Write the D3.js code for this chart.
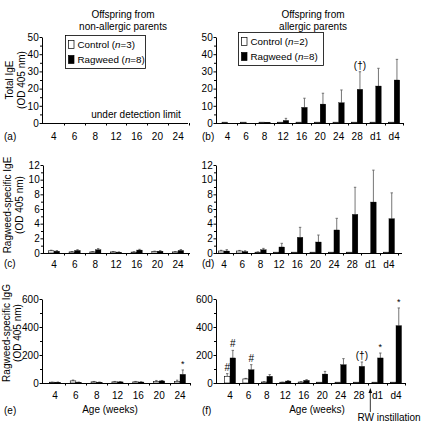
<!DOCTYPE html>
<html>
<head>
<meta charset="utf-8">
<script src="https://cdn.jsdelivr.net/npm/d3@7/dist/d3.min.js"></script>
<style>
  html, body { margin: 0; padding: 0; background: #fff; }
  svg { display: block; }
  text { font-family: "Liberation Sans", Arial, Helvetica, sans-serif; fill: #000; }
</style>
</head>
<body>
<svg id="chart" width="421" height="424"></svg>
<script>
// ---------------- DATA ----------------
const agesLeft  = ["4", "6", "8", "12", "16", "20", "24"];
const agesRight = ["4", "6", "8", "12", "16", "20", "24", "28", "d1", "d4"];

// (a) Total IgE, non-allergic parents: under detection limit (no bars)
// (b) Total IgE, allergic parents
const totalIgEAllergicControl    = [0.2, 0.2, 0.2, 0.2, 0.2, 0.2, 0.2, 0.2, 0.2, 0.2];
const totalIgEAllergicRagweed    = [0, 0, 0.5, 1.5, 9.1, 11.0, 11.8, 19.6, 21.5, 25.0];
const totalIgEAllergicRagweedErr = [0, 0, 0, 1.2, 5.3, 6.3, 7.4, 10.2, 10.3, 12.0];

// (c) Ragweed-specific IgE, non-allergic parents
const rsIgENonControl    = [0.30, 0.15, 0.15, 0.15, 0.12, 0.20, 0.15];
const rsIgENonControlErr = [0.08, 0.05, 0.05, 0.05, 0.05, 0.05, 0.05];
const rsIgENonRagweed    = [0.25, 0.35, 0.45, 0.10, 0.40, 0.25, 0.35];
const rsIgENonRagweedErr = [0.08, 0.10, 0.15, 0.05, 0.10, 0.08, 0.12];

// (d) Ragweed-specific IgE, allergic parents
const rsIgEAllControl    = [0.27, 0.27, 0.10, 0.05, 0.05, 0.05, 0.05, 0.10, 0.0, 0.10];
const rsIgEAllControlErr = [0.10, 0.08, 0.05, 0.0, 0.0, 0.0, 0.0, 0.0, 0.0, 0.0];
const rsIgEAllRagweed    = [0.27, 0.20, 0.45, 0.82, 2.14, 1.50, 3.14, 5.27, 6.95, 4.68];
const rsIgEAllRagweedErr = [0.18, 0.10, 0.18, 0.50, 1.36, 0.95, 1.59, 3.69, 4.35, 3.52];

// (e) Ragweed-specific IgG, non-allergic parents
const rsIgGNonControl    = [4, 15, 8, 8, 8, 10, 12];
const rsIgGNonControlErr = [2, 6, 3, 3, 3, 8, 8];
const rsIgGNonRagweed    = [5, 5, 5, 8, 7, 15, 62];
const rsIgGNonRagweedErr = [2, 2, 2, 2, 2, 3, 31];

// (f) Ragweed-specific IgG, allergic parents
const rsIgGAllControl    = [48, 29, 7, 5, 7, 2, 2, 2, 3, 2];
const rsIgGAllControlErr = [19, 4, 2, 1, 2, 0, 0, 0, 0, 0];
const rsIgGAllRagweed    = [179, 95, 48, 14, 19, 64, 131, 119, 179, 410];
const rsIgGAllRagweedErr = [54, 36, 12, 3, 5, 19, 43, 31, 35, 126];

// annotations (category, text) above error bars
const annB = [["28", "(\u2020)"]];
const annE = [["24", "*"]];
const annFRag = [["4", "#"], ["6", "#"], ["28", "(\u2020)"], ["d1", "*"], ["d4", "*"]];
const annFCtl = [["4", "#"]];

const yTicksTotal = [0, 10, 20, 30, 40, 50];
const yTicksIgE   = [0, 2, 4, 6, 8, 10, 12];
const yTicksIgG   = [0, 200, 400, 600];

// ---------------- DRAW ----------------
const svg = d3.select("#chart");
const FONT = 10;
const TICKFONT = 10;

function panel(cfg) {
  const g = svg.append("g");
  const y = d3.scaleLinear().domain([0, cfg.ymax]).range([cfg.y0, cfg.y1]);
  const x = d3.scaleBand().domain(cfg.cats).range(cfg.band).paddingInner(0).paddingOuter(0);
  const bw = 5.6;
  const center = c => x(c) + x.bandwidth() / 2;

  // y axis with minor ticks
  const yAxis = d3.axisLeft(y).tickValues(cfg.yticks).tickSize(2.5).tickSizeOuter(0).tickPadding(0.8);
  const ga = g.append("g").attr("transform", `translate(${cfg.ax0},0)`).call(yAxis);
  ga.selectAll("text").attr("fill", "#000").style("font-size", TICKFONT + "px")
    .style("font-family", '"Liberation Sans", Arial, sans-serif');
  ga.select(".domain").attr("stroke", "#000");
  ga.selectAll(".tick line").attr("stroke", "#000");
  const minor = d3.range(cfg.minorStep, cfg.ymax, cfg.minorStep).filter(v => cfg.yticks.indexOf(v) < 0);
  g.selectAll("line.minor").data(minor).enter().append("line")
    .attr("x1", cfg.ax0 - 2).attr("x2", cfg.ax0)
    .attr("y1", d => y(d) + 0.5).attr("y2", d => y(d) + 0.5)
    .attr("stroke", "#000").attr("stroke-width", 1);

  // x axis line
  g.append("line").attr("x1", cfg.ax0).attr("x2", cfg.ax1)
    .attr("y1", cfg.y0 + 0.5).attr("y2", cfg.y0 + 0.5).attr("stroke", "#000");
  // ticks at category boundaries
  const bounds = cfg.cats.slice(1).map(c => x(c));
  bounds.push(cfg.band[1]);
  g.selectAll("line.xt").data(bounds).enter().append("line")
    .attr("x1", d => Math.round(d) + 0.5).attr("x2", d => Math.round(d) + 0.5)
    .attr("y1", cfg.y0).attr("y2", cfg.y0 + 2.5).attr("stroke", "#000");
  // x labels
  g.selectAll("text.xl").data(cfg.cats).enter().append("text")
    .attr("x", d => center(d)).attr("y", cfg.y0 + cfg.labelDy)
    .attr("text-anchor", "middle").style("font-size", FONT + "px").text(d => d);

  // bars
  if (cfg.control) {
    const drawSeries = (vals, errs, fill, xoff) => {
      cfg.cats.forEach((c, i) => {
        const v = vals[i];
        const bx = center(c) + xoff;
        if (errs && errs[i] > 0) {
          const ex = bx + bw / 2;
          g.append("line").attr("x1", ex).attr("x2", ex)
            .attr("y1", y(v)).attr("y2", y(v + errs[i]))
            .attr("stroke", "#666").attr("stroke-width", 0.9);
          g.append("line").attr("x1", ex - 1.2).attr("x2", ex + 1.2)
            .attr("y1", y(v + errs[i])).attr("y2", y(v + errs[i]))
            .attr("stroke", "#666").attr("stroke-width", 0.9);
        }
        if (v > 0) {
          const h = Math.max(cfg.y0 - y(v), 0.8);
          g.append("rect").attr("x", bx).attr("y", cfg.y0 - h)
            .attr("width", bw).attr("height", h)
            .attr("fill", fill).attr("stroke", "#000").attr("stroke-width", fill === "#fff" ? 0.6 : 0.3);
        }
      });
    };
    drawSeries(cfg.control, cfg.controlErr, "#fff", -bw);
    drawSeries(cfg.ragweed, cfg.ragweedErr, "#000", 0);

    const annot = (list, vals, errs, xoff, dy) => {
      (list || []).forEach(([c, t]) => {
        const i = cfg.cats.indexOf(c);
        const top = vals[i] + (errs ? errs[i] : 0);
        g.append("text").attr("x", center(c) + xoff + bw / 2).attr("y", y(top) - dy)
          .attr("text-anchor", "middle").style("font-size", (t === "*" ? 9 : FONT) + "px").text(t);
      });
    };
    annot(cfg.annRag, cfg.ragweed, cfg.ragweedErr, 0, 3);
    annot(cfg.annCtl, cfg.control, cfg.controlErr, -bw, 3);
  }

  // panel letter
  g.append("text").attr("x", cfg.letterX).attr("y", cfg.y0 + cfg.letterDy)
    .style("font-size", FONT + "px").text(cfg.letter);
  return { g, x, y, center };
}

function legend(x0, y0, w, h, n1, n2) {
  const g = svg.append("g");
  g.append("rect").attr("x", x0 + 0.5).attr("y", y0 + 0.5).attr("width", w).attr("height", h)
    .attr("fill", "#fff").attr("stroke", "#000").attr("stroke-width", 0.8);
  const rows = [["#fff", "Control", n1], ["#000", "Ragweed", n2]];
  rows.forEach(([fill, name, n], i) => {
    const ry = y0 + 5 + i * 15;
    g.append("rect").attr("x", x0 + 3.5).attr("y", ry + 0.5).attr("width", 5.5).attr("height", 8)
      .attr("fill", fill).attr("stroke", "#000").attr("stroke-width", 0.7);
    const t = g.append("text").attr("x", x0 + 12.5).attr("y", ry + 8).style("font-size", "9.8px");
    t.append("tspan").text(name + " (");
    t.append("tspan").style("font-style", "italic").text("n");
    t.append("tspan").text("=" + n + ")");
  });
}

// titles
[[123, "non-allergic parents"], [313, "allergic parents"]].forEach(([cx, t2]) => {
  svg.append("text").attr("x", cx).attr("y", 18).attr("text-anchor", "middle").style("font-size", FONT + "px").text("Offspring from");
  svg.append("text").attr("x", cx).attr("y", 29.5).attr("text-anchor", "middle").style("font-size", FONT + "px").text(t2);
});

// y titles
function yTitle(cy, l1, l2, x1, x2) {
  svg.append("text").attr("transform", `translate(${x1},${cy}) rotate(-90)`).attr("text-anchor", "middle").style("font-size", FONT + "px").text(l1);
  svg.append("text").attr("transform", `translate(${x2},${cy}) rotate(-90)`).attr("text-anchor", "middle").style("font-size", FONT + "px").text(l2);
}
yTitle(80, "Total  IgE", "(OD 405 nm)", 12.5, 24.5);
yTitle(205, "Ragweed-specific IgE", "(OD 405 nm)", 11, 23);
yTitle(333, "Ragweed-specific IgG", "(OD 405 nm)", 10, 21);

// (a)
panel({ cats: agesLeft, ymax: 50, y0: 123, y1: 37, yticks: yTicksTotal, minorStep: 5,
  ax0: 42, ax1: 188, band: [43.5, 188.5], labelDy: 17, letter: "(a)", letterX: 4, letterDy: 17 });
svg.append("text").attr("x", 136).attr("y", 118).attr("text-anchor", "middle").style("font-size", FONT + "px").text("under detection limit");
legend(65, 35, 80, 33, 3, 8);

// (b)
panel({ cats: agesRight, ymax: 50, y0: 123, y1: 37, yticks: yTicksTotal, minorStep: 5,
  ax0: 216, ax1: 404, band: [218.4, 403.4], labelDy: 17, letter: "(b)", letterX: 202, letterDy: 17,
  control: totalIgEAllergicControl, controlErr: null,
  ragweed: totalIgEAllergicRagweed, ragweedErr: totalIgEAllergicRagweedErr, annRag: annB });
legend(238, 32, 85, 33, 2, 8);

// (c)
panel({ cats: agesLeft, ymax: 12, y0: 253, y1: 165, yticks: yTicksIgE, minorStep: 1,
  ax0: 43, ax1: 190, band: [43.7, 188.4], labelDy: 15, letter: "(c)", letterX: 4, letterDy: 14,
  control: rsIgENonControl, controlErr: rsIgENonControlErr,
  ragweed: rsIgENonRagweed, ragweedErr: rsIgENonRagweedErr });

// (d)
panel({ cats: agesRight, ymax: 12, y0: 253, y1: 165, yticks: yTicksIgE, minorStep: 1,
  ax0: 216, ax1: 402, band: [214.8, 398.1], labelDy: 15, letter: "(d)", letterX: 202, letterDy: 14,
  control: rsIgEAllControl, controlErr: rsIgEAllControlErr,
  ragweed: rsIgEAllRagweed, ragweedErr: rsIgEAllRagweedErr });

// (e)
panel({ cats: agesLeft, ymax: 600, y0: 383, y1: 299, yticks: yTicksIgG, minorStep: 100,
  ax0: 42, ax1: 190, band: [44.6, 190.4], labelDy: 16, letter: "(e)", letterX: 4, letterDy: 31,
  control: rsIgGNonControl, controlErr: rsIgGNonControlErr,
  ragweed: rsIgGNonRagweed, ragweedErr: rsIgGNonRagweedErr, annRag: annE });

// (f)
const pf = panel({ cats: agesRight, ymax: 600, y0: 383, y1: 299, yticks: yTicksIgG, minorStep: 100,
  ax0: 216, ax1: 405, band: [220.8, 405.2], labelDy: 16, letter: "(f)", letterX: 202, letterDy: 31,
  control: rsIgGAllControl, controlErr: rsIgGAllControlErr,
  ragweed: rsIgGAllRagweed, ragweedErr: rsIgGAllRagweedErr, annRag: annFRag, annCtl: annFCtl });

// x titles
svg.append("text").attr("x", 110).attr("y", 413).attr("text-anchor", "middle").style("font-size", FONT + "px").text("Age (weeks)");
svg.append("text").attr("x", 317).attr("y", 413).attr("text-anchor", "middle").style("font-size", FONT + "px").text("Age (weeks)");

// RW instillation arrow (between 28 and d1)
const arrowX = (pf.x("28") + pf.x.bandwidth() + pf.x("d1")) / 2 + 2;
svg.append("line").attr("x1", arrowX).attr("x2", arrowX).attr("y1", 392).attr("y2", 412)
  .attr("stroke", "#000").attr("stroke-width", 0.8);
svg.append("path").attr("d", `M${arrowX},388 L${arrowX - 1.8},393 L${arrowX + 1.8},393 Z`).attr("fill", "#000");
svg.append("text").attr("x", 389).attr("y", 421).attr("text-anchor", "middle").style("font-size", FONT + "px").text("RW instillation");
</script>
</body>
</html>
